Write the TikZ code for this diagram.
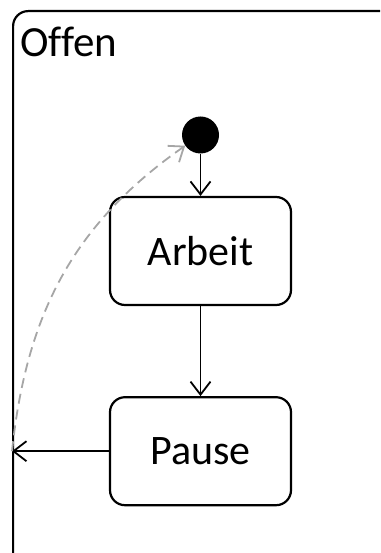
\documentclass[tikz,border=0pt]{standalone}
\usepackage{fontspec}
\setmainfont[Ligatures=CommonOff]{Carlito}
\usetikzlibrary{arrows.meta,positioning,calc}

\begin{document}
\begin{tikzpicture}[x=1pt,y=-1pt,
    state/.style={draw,rounded corners=15pt,line width=2.2pt,minimum width=181pt,minimum height=108pt,align=center,font=\fontsize{42}{50}\selectfont},
    frame/.style={draw,rounded corners=15pt,line width=2.2pt,minimum width=400pt,minimum height=580pt,anchor=north west},
    init/.style={circle,fill=black,minimum size=37pt,inner sep=0pt},
    trans/.style={->,line width=1.8pt},
    back/.style={->,line width=1.8pt,dash pattern=on 10pt off 6pt,black!35},
    >={Straight Barb[length=13pt,width=20pt]}
  ]
    \useasboundingbox (0,0) rectangle (380,553);
    \clip (0,0) rectangle (380,553);
    \node[frame] (offen) at (12,10) {};
    \node[anchor=base west,inner sep=0pt,font=\fontsize{43}{50}\selectfont] (title) at (20,57) {Offen};
    \node[init] (start) at (200.5,135) {};
    \node[state] (arbeit) at (200.5,251) {Arbeit};
    \node[state,below=90pt of arbeit] (pause) {Pause};
    \coordinate (ret) at (offen.west |- pause);

    \draw[trans] (start) -- (arbeit);
    \draw[trans] (arbeit) -- (pause);
    \draw[trans] (pause) -- (ret);
    \draw[back] (ret) to[out=84,in=215] (start);
  \end{tikzpicture}
\end{document}
